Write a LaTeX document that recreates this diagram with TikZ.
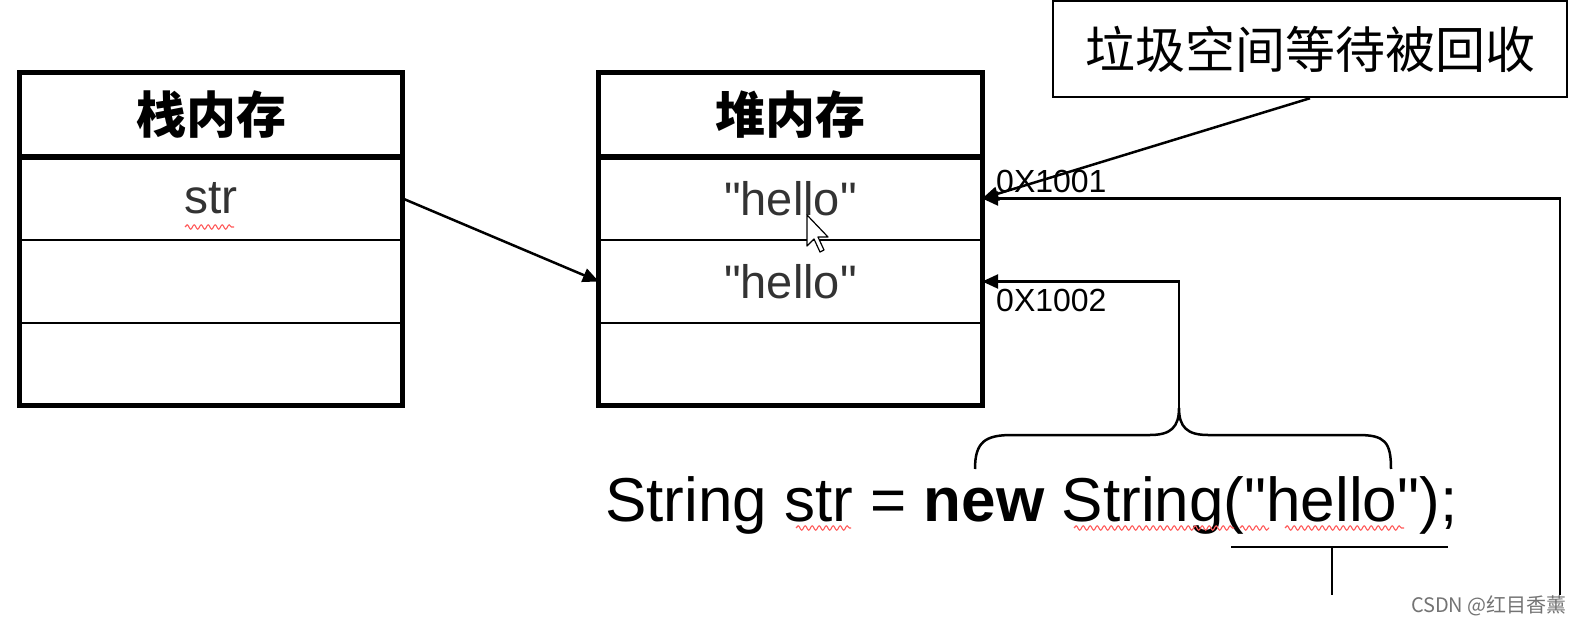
\documentclass[tikz,border=0pt]{standalone}
\usepackage{fontspec}
\setmainfont{Liberation Sans}[Ligatures=TeXOff]
\newfontfamily\cjk{Noto Sans CJK SC}
\usetikzlibrary{arrows.meta,decorations.pathmorphing}
\begin{document}
\begin{tikzpicture}[x=1pt,y=-1pt,
  outer/.style={line width=5pt},
  rowsep/.style={line width=2.5pt},
  hsep/.style={line width=6pt},
  conn/.style={line width=2.5pt,-{Triangle[length=16pt,width=14pt]}},
  plain/.style={line width=2.5pt},
  cell/.style={minimum width=383pt, minimum height=83pt, inner sep=0pt},
  hdr/.style={font=\cjk\bfseries\fontsize{50}{60}\selectfont},
  val/.style={font=\fontsize{47}{56}\selectfont, text=black!80},
  addr/.style={font=\fontsize{32}{38}\selectfont, inner sep=0pt, anchor=west},
  squig/.style={red!65, line width=1.1pt, decorate, decoration={snake, amplitude=2.2pt, segment length=7pt}},
]
\useasboundingbox (0,0) rectangle (1580,628);
% stack
\node[cell,hdr,minimum height=84pt] (sh) at (211,115) {栈内存};
\node[cell,val,font=\fontsize{48}{56}\selectfont] (s1) at (211,198.5) {str};
\node[cell] (s2) at (211,281.5) {};
\node[cell,minimum height=82pt] (s3) at (211,364) {};
\draw[outer] (sh.north west) rectangle (s3.south east);
\draw[hsep] (sh.south west) -- (sh.south east);
\draw[rowsep] (s1.south west) -- (s1.south east);
\draw[rowsep] (s2.south west) -- (s2.south east);
% heap
\node[cell,hdr,minimum height=84pt] (hh) at (790.5,115) {堆内存};
\node[cell,val] (h1) at (790.5,198.5) {"hello"};
\node[cell,val] (h2) at (790.5,281.5) {"hello"};
\node[cell,minimum height=82pt] (h3) at (790.5,364) {};
\draw[outer] (hh.north west) rectangle (h3.south east);
\draw[hsep] (hh.south west) -- (hh.south east);
\draw[rowsep] (h1.south west) -- (h1.south east);
\draw[rowsep] (h2.south west) -- (h2.south east);
% garbage box
\node[draw,line width=2.5pt,minimum width=514pt,minimum height=96pt,inner sep=0pt,
      font=\cjk\fontsize{50}{60}\selectfont] (gb) at (1310,49) {垃圾空间等待被回收};
% labels
\node[addr] (a1) at (996,181) {0X1001};
\node[addr] (a2) at (996,300) {0X1002};
% code
\node[inner sep=0pt,anchor=base west,font=\fontsize{62}{70}\selectfont] (code) at (605,521)
  {String str = \textbf{new} String("hello");};
% coordinates
\coordinate (rb) at (1560,595);
\coordinate (bt) at (1179,408);
\coordinate (bl) at (975,469);
\coordinate (br) at (1391,469);
\coordinate (ul1) at (1231,547);
\coordinate (ul2) at (1448,547);
\coordinate (ulm) at (1332,547);
\coordinate (ulb) at (1332,595);
% connectors
\draw[conn] (s1.east) -- (h2.west);
\draw[conn] (gb.south) -- (h1.east);
\draw[conn] (rb) |- (h1.east);
\draw[conn] (bt) |- (h2.east);
% brace
\draw[plain] (bl) .. controls (975,442) and (985,435) .. (1012,435) -- (1150,435)
  .. controls (1171,435) and (1179,427) .. (bt)
  .. controls (1179,427) and (1187,435) .. (1208,435) -- (1358,435)
  .. controls (1385,435) and (1391,442) .. (br);
% underline
\draw[plain] (ul1) -- (ul2);
\draw[plain] (ulm) -- (ulb);
% squiggles
\draw[squig] (185,227) -- (234,227);
\draw[squig] (796,528) -- (851,528);
\draw[squig] (1074,528) -- (1234,528);
\draw[squig] (1240,528) -- (1269,528);
\draw[squig] (1285,528) -- (1404,528);
% cursor
\draw[fill=white,line width=1.2pt,line join=round] (807,215) -- ++(0,31) -- ++(7,-7) -- ++(6,13) -- ++(4,-2) -- ++(-6,-13) -- ++(10,0) -- cycle;
% watermark
\node[font=\cjk\fontsize{20}{24}\selectfont,text=black!55,anchor=east,inner sep=0pt] (wm) at (1567,606) {CSDN @红目香薰};
\end{tikzpicture}
\end{document}
